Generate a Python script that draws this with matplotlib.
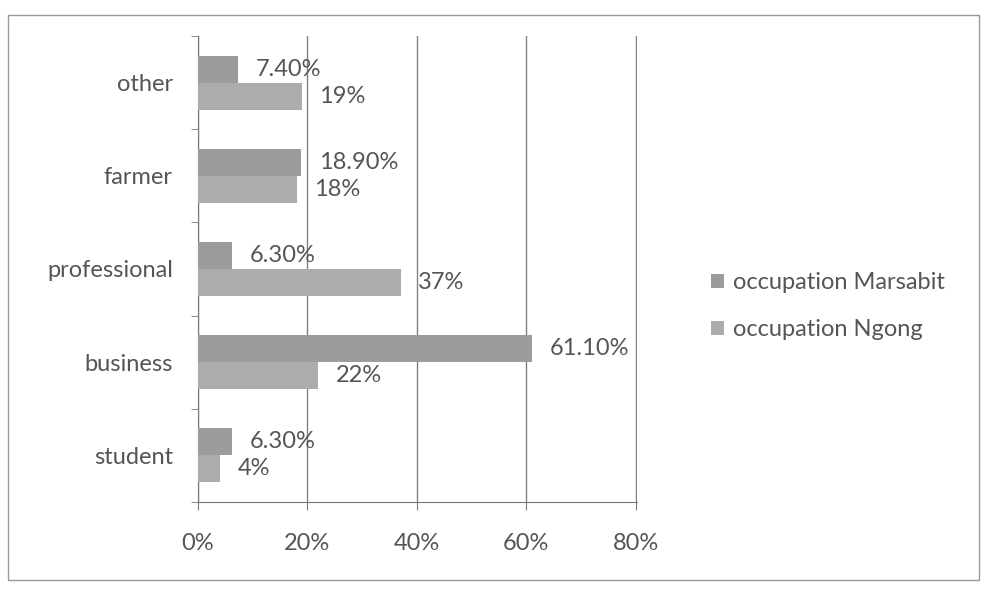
import matplotlib.pyplot as plt
import numpy as np
from matplotlib.patches import Rectangle

categories = ["student", "business", "professional", "farmer", "other"]
marsabit = [6.3, 61.1, 6.3, 18.9, 7.4]
ngong = [4, 22, 37, 18, 19]
marsabit_labels = ["6.30%", "61.10%", "6.30%", "18.90%", "7.40%"]
ngong_labels = ["4%", "22%", "37%", "18%", "19%"]

plt.rcParams["font.family"] = ["Lato", "DejaVu Sans"]

fig = plt.figure(figsize=(9.83, 5.89), dpi=100)
ax = fig.add_axes([0.2014, 0.1477, 0.4466, 0.7913])

y = np.arange(len(categories))
h = 0.29
c_m = "#9c9c9c"
c_n = "#acacac"
ax.barh(y + h / 2, marsabit, height=h, color=c_m, label="occupation Marsabit", zorder=3)
ax.barh(y - h / 2, ngong, height=h, color=c_n, label="occupation Ngong", zorder=3)

fs = 17
for i in range(len(categories)):
    ax.text(marsabit[i] + 3.2, y[i] + h / 2, marsabit_labels[i],
            va="center", ha="left", fontsize=fs, color="#555555", zorder=4)
    ax.text(ngong[i] + 3.2, y[i] - h / 2, ngong_labels[i],
            va="center", ha="left", fontsize=fs, color="#555555", zorder=4)

ax.set_xlim(0, 80.2)
ax.set_ylim(-0.5, len(categories) - 0.5)
ax.set_xticks([0, 20, 40, 60, 80])
ax.set_xticklabels(["0%", "20%", "40%", "60%", "80%"], fontsize=fs, color="#555555")
ax.set_yticks(y)
ax.set_yticklabels(categories, fontsize=fs, color="#555555")
ax.set_yticks(np.arange(-0.5, len(categories)), minor=True)
ax.tick_params(axis="y", which="major", length=0, pad=18)
ax.tick_params(axis="y", which="minor", length=5, color="#777777")
ax.tick_params(axis="x", length=6, color="#777777", pad=16)

ax.grid(axis="x", color="#808080", linewidth=1, zorder=0)
for s in ["top", "right"]:
    ax.spines[s].set_visible(False)
ax.spines["left"].set_color("#777777")
ax.spines["bottom"].set_color("#777777")

ax.legend(loc="center left", bbox_to_anchor=(1.12, 0.42), frameon=False,
          fontsize=fs, labelcolor="#555555", handlelength=0.55, handleheight=0.55,
          labelspacing=1.1, handletextpad=0.4)

fig.patches.append(Rectangle((0.008, 0.015), 0.988, 0.96, transform=fig.transFigure,
                             fill=False, edgecolor="#999999", linewidth=1))

fig.savefig("out.png", dpi=100)
